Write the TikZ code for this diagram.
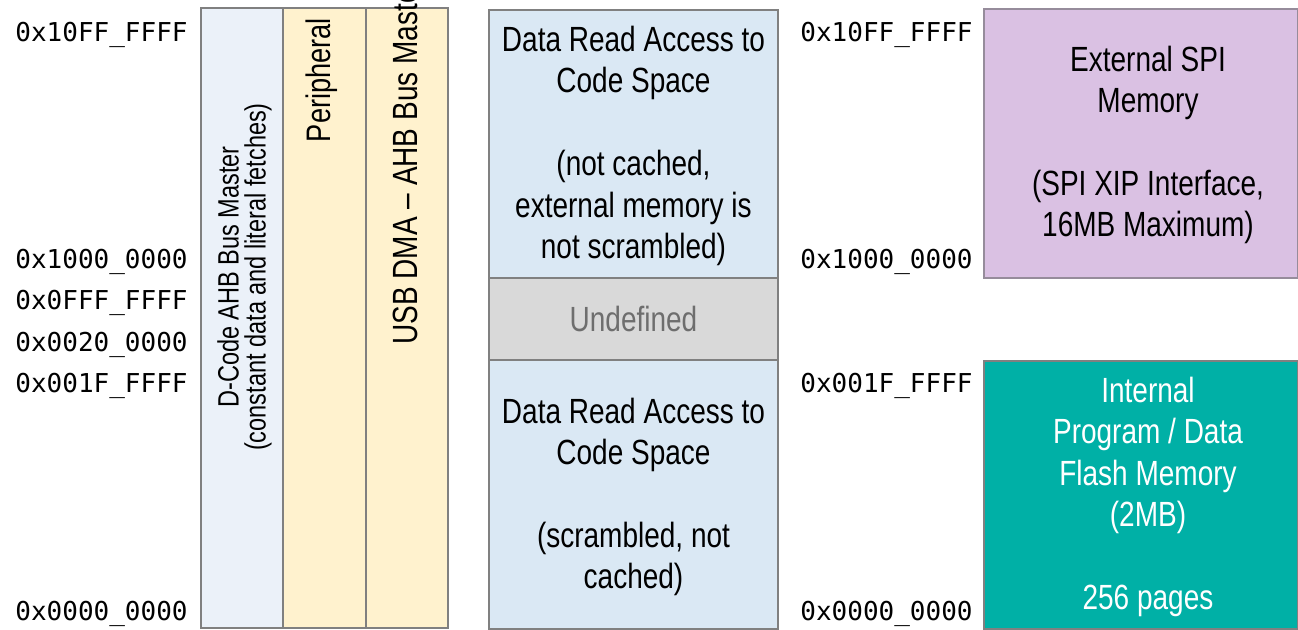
\documentclass[tikz,border=0pt]{standalone}
\usepackage{fontspec}
\setmainfont{Liberation Sans}[FakeStretch=0.80]
\newfontfamily\addrfont{DejaVu Sans Mono}

\begin{document}
\begin{tikzpicture}[x=0.5pt,y=0.5pt,yscale=-1,xscale=1]
	\useasboundingbox (0,0) rectangle (1298,629);
	\clip (0,0) rectangle (1298,629);
	\tikzset{
		addr/.style={anchor=west, inner sep=0pt, font=\addrfont\fontsize{13}{15}\selectfont},
		boxtext/.style={align=center, inner sep=0pt, font=\fontsize{17.5}{20.7}\selectfont},
		striptext/.style={rotate=90, inner sep=0pt, font=\fontsize{14.7}{15}\selectfont},
	}
	
	%Shape: Rectangle [id:dcode]
	\draw [color={rgb, 255:red, 128; green, 128; blue, 128 }, line width=0.75, fill={rgb, 255:red, 235; green, 241; blue, 249 }] (201,8) rectangle (283,628) ;
	%Shape: Rectangle [id:periph]
	\draw [color={rgb, 255:red, 128; green, 128; blue, 128 }, line width=0.75, fill={rgb, 255:red, 255; green, 242; blue, 206 }] (283,8) rectangle (366,628) ;
	%Shape: Rectangle [id:usbdma]
	\draw [color={rgb, 255:red, 128; green, 128; blue, 128 }, line width=0.75, fill={rgb, 255:red, 255; green, 242; blue, 206 }] (366,8) rectangle (448,628) ;
	
	%Shape: Rectangle [id:codeup]
	\draw [color={rgb, 255:red, 128; green, 128; blue, 128 }, line width=0.75, fill={rgb, 255:red, 218; green, 232; blue, 244 }] (489,10) rectangle (778,278) ;
	%Shape: Rectangle [id:undef]
	\draw [color={rgb, 255:red, 128; green, 128; blue, 128 }, line width=0.75, fill={rgb, 255:red, 217; green, 217; blue, 217 }] (489,278) rectangle (778,360) ;
	%Shape: Rectangle [id:codelow]
	\draw [color={rgb, 255:red, 128; green, 128; blue, 128 }, line width=0.75, fill={rgb, 255:red, 218; green, 232; blue, 244 }] (489,360) rectangle (778,629) ;
	
	%Shape: Rectangle [id:spimem]
	\draw [color={rgb, 255:red, 150; green, 140; blue, 155 }, line width=0.75, fill={rgb, 255:red, 218; green, 193; blue, 227 }] (984,9) rectangle (1297.5,278) ;
	%Shape: Rectangle [id:flash]
	\draw [color={rgb, 255:red, 128; green, 128; blue, 128 }, line width=0.75, fill={rgb, 255:red, 0; green, 176; blue, 166 }] (984,361) rectangle (1297.5,629) ;
	
	% Text Node
	\draw (228,277) node [striptext] (dcodetxt) {D-Code AHB Bus Master};
	% Text Node
	\draw (258,277) node [striptext] (dcodenote) {(constant data and literal fetches)};
	% Text Node
	\draw (322,80) node [striptext, font=\fontsize{17}{15}\selectfont] (periphtxt) {Peripheral};
	% Text Node
	\draw (405,345) node [striptext, anchor=west, font=\fontsize{17.5}{15}\selectfont] (usbtxt) {USB DMA – AHB Bus Master};
	
	% Text Node
	\draw (633.5,146) node [boxtext] (codeuptxt) {Data Read Access to\\Code Space\\[20.7pt](not cached,\\external memory is\\not scrambled)};
	% Text Node
	\draw (633.5,319) node [boxtext, text={rgb, 255:red, 110; green, 110; blue, 110 }] (undeftxt) {Undefined};
	% Text Node
	\draw (633.5,497) node [boxtext] (codelowtxt) {Data Read Access to\\Code Space\\[20.7pt](scrambled, not\\cached)};
	% Text Node
	\draw (1148,145) node [boxtext] (spimemtxt) {External SPI\\Memory\\[20.7pt](SPI XIP Interface,\\16MB Maximum)};
	% Text Node
	\draw (1148,497) node [boxtext, text=white] (flashtxt) {Internal\\Program / Data\\Flash Memory\\(2MB)\\[20.7pt]256 pages};
	
	% Address labels, left
	\draw (15,35) node [addr] (la1) {0x10FF\_FFFF};
	\draw (15,262) node [addr] (la2) {0x1000\_0000};
	\draw (15,303) node [addr] (la3) {0x0FFF\_FFFF};
	\draw (15,345) node [addr] (la4) {0x0020\_0000};
	\draw (15,386) node [addr] (la5) {0x001F\_FFFF};
	\draw (15,614) node [addr] (la6) {0x0000\_0000};
	% Address labels, right
	\draw (800,35) node [addr] (ra1) {0x10FF\_FFFF};
	\draw (800,262) node [addr] (ra2) {0x1000\_0000};
	\draw (800,386) node [addr] (ra3) {0x001F\_FFFF};
	\draw (800,614) node [addr] (ra4) {0x0000\_0000};
\end{tikzpicture}
\end{document}
